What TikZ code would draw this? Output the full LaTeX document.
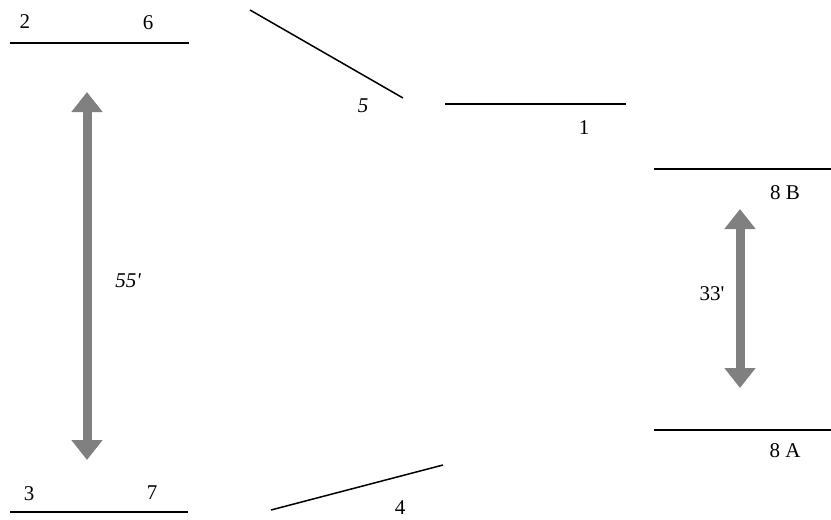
\documentclass[tikz,border=0pt]{standalone}
\usepackage{fontspec}
\setmainfont{Liberation Serif}
\usetikzlibrary{arrows.meta}
\definecolor{arrowgray}{RGB}{128,128,128}
\tikzset{
  bar/.style={draw=black, line width=1.2pt},
  thickbar/.style={draw=black, line width=2.4pt},
  slant/.style={draw=black, line width=1.5pt},
  dimarrow/.style={draw=arrowgray, line width=9pt,
    {Triangle[width=30pt,length=20pt]}-{Triangle[width=30pt,length=20pt]}},
  lbl/.style={inner sep=0pt, font=\fontsize{21}{24}\selectfont},
  ilbl/.style={inner sep=0pt, font=\fontsize{21}{24}\selectfont\itshape},
}
\begin{document}
\begin{tikzpicture}[x=1pt,y=-1pt]
\useasboundingbox (0,0) rectangle (831,520);
% line coordinates
\coordinate (tl1) at (10,43);   \coordinate (tl2) at (189,43);
\coordinate (bl1) at (10,512);  \coordinate (bl2) at (188,512);
\coordinate (d51) at (250,10);  \coordinate (d52) at (403,98);
\coordinate (d41) at (271,510); \coordinate (d42) at (443,465);
\coordinate (m1) at (445,104);  \coordinate (m2) at (626,104);
\coordinate (r81) at (654,169); \coordinate (r82) at (831,169);
\coordinate (r71) at (654,430); \coordinate (r72) at (831,430);
\coordinate (a55t) at (87,92);  \coordinate (a55b) at (87,460);
\coordinate (a33t) at (740,209); \coordinate (a33b) at (740,388);
% lines
\draw[bar] (tl1) -- (tl2);
\draw[thickbar] (bl1) -- (bl2);
\draw[slant] (d51) -- (d52);
\draw[slant] (d41) -- (d42);
\draw[bar] (m1) -- (m2);
\draw[bar] (r81) -- (r82);
\draw[bar] (r71) -- (r72);
% dimension arrows
\draw[dimarrow] (a55t) -- (a55b);
\draw[dimarrow] (a33t) -- (a33b);
% labels
\node[lbl] (l2) at (25,22) {2};
\node[lbl] (l6) at (148,23) {6};
\node[ilbl] (l5) at (363,106) {5};
\node[lbl] (l1) at (584,128) {1};
\node[lbl] (l8b) at (785,193) {8 B};
\node[lbl] (l33) at (712,294) {33\textquotesingle};
\node[lbl] (l8a) at (785,451) {8 A};
\node[ilbl] (l55) at (128,281) {55\textquotesingle};
\node[lbl] (l3) at (29,494) {3};
\node[lbl] (l7) at (152,493) {7};
\node[lbl] (l4) at (400,508) {4};
\end{tikzpicture}
\end{document}
